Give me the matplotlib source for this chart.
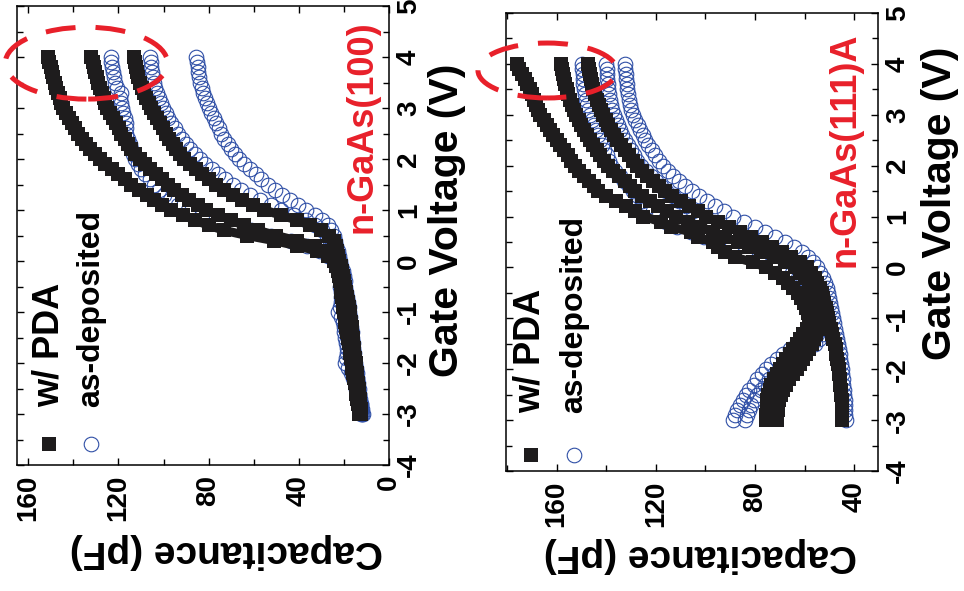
import numpy as np
import matplotlib
matplotlib.use("Agg")
import matplotlib.pyplot as plt
from matplotlib.patches import Ellipse
from matplotlib.ticker import MultipleLocator

plt.rcParams["font.family"] = ["Liberation Sans", "DejaVu Sans"]
plt.rcParams["font.weight"] = "bold"
plt.rcParams["axes.unicode_minus"] = False

# gate voltage sweep, -3 V to 4 V in 0.1 V steps
gate_v = np.linspace(-3.0, 4.0, 71)

# n-GaAs(100), capacitance in pF
pda_100 = [
    [13.2, 13.5, 13.9, 14.2, 14.5, 14.8, 15.2, 15.5, 15.8, 16.2, 16.5, 16.8, 17.2, 17.5, 17.9,
     18.3, 18.6, 19.0, 19.3, 19.7, 20.0, 20.3, 20.6, 20.9, 21.2, 21.5, 21.8, 22.2, 22.7, 23.5,
     24.5, 27.0, 32.0, 41.0, 51.0, 63.0, 73.0, 80.0, 86.0, 91.5, 96.5, 100.5, 104.0, 107.5, 111.0,
     114.2, 117.0, 120.0, 123.0, 125.8, 128.3, 130.5, 132.6, 134.5, 136.3, 137.9, 139.2, 140.5,
     141.8, 143.2, 144.5, 145.3, 146.0, 146.7, 147.5, 148.2, 148.8, 149.4, 150.0, 150.6, 151.2],
    [12.8, 13.1, 13.4, 13.7, 14.0, 14.3, 14.6, 14.9, 15.2, 15.5, 15.8, 16.1, 16.4, 16.7, 17.0,
     17.3, 17.6, 17.9, 18.2, 18.5, 18.8, 19.1, 19.4, 19.8, 20.1, 20.5, 20.9, 21.3, 21.8, 22.4,
     23.0, 24.5, 27.5, 33.0, 41.0, 50.0, 58.0, 64.5, 70.0, 75.8, 81.0, 84.8, 88.5, 92.0, 95.2,
     98.0, 100.6, 103.2, 105.8, 108.3, 110.6, 112.5, 114.2, 115.8, 117.3, 118.7, 119.9, 121.2,
     122.5, 123.7, 124.9, 125.8, 126.6, 127.4, 128.2, 129.0, 129.6, 130.2, 130.8, 131.4, 132.0],
    [12.3, 12.5, 12.8, 13.0, 13.3, 13.5, 13.7, 14.0, 14.2, 14.5, 14.8, 15.0, 15.3, 15.5, 15.8,
     16.0, 16.3, 16.6, 16.9, 17.2, 17.5, 17.9, 18.3, 18.7, 19.1, 19.5, 19.9, 20.3, 20.8, 21.4,
     22.0, 22.5, 23.0, 23.6, 24.5, 26.5, 30.0, 35.0, 40.6, 48.0, 55.3, 60.5, 65.0, 69.2, 73.0,
     76.6, 79.8, 82.8, 85.6, 88.2, 90.7, 92.6, 94.3, 95.9, 97.4, 98.8, 100.1, 101.4, 102.7,
     104.0, 105.4, 106.6, 107.7, 108.7, 109.7, 110.6, 111.2, 111.7, 112.2, 112.7, 113.2],
]
asdep_100 = [
    [11.5, 12.0, 12.6, 13.2, 13.8, 14.5, 15.2, 15.9, 16.7, 18.0, 19.5, 19.0, 18.5, 18.8, 19.2,
     19.5, 19.8, 20.1, 20.5, 21.5, 22.5, 21.8, 21.3, 21.4, 21.5, 21.6, 21.8, 22.1, 22.6, 23.4,
     24.5, 27.0, 30.5, 36.5, 43.4, 52.5, 61.0, 69.0, 76.0, 83.0, 89.0, 93.5, 97.0, 99.8, 102.2,
     104.0, 106.0, 108.0, 110.0, 111.5, 112.8, 113.5, 114.3, 115.0, 115.8, 116.5, 116.8, 116.7,
     117.2, 117.8, 118.4, 119.0, 119.3, 119.0, 120.5, 121.3, 121.8, 122.3, 122.7, 123.1, 123.5],
    [12.3, 12.6, 12.9, 13.2, 13.5, 13.8, 14.1, 14.4, 14.7, 15.0, 15.3, 15.6, 15.9, 16.2, 16.5,
     16.8, 17.1, 17.4, 17.7, 18.0, 18.3, 18.6, 18.9, 19.3, 19.6, 20.0, 20.4, 20.8, 21.3, 21.9,
     22.5, 23.2, 24.0, 25.0, 26.0, 27.5, 29.6, 32.8, 36.8, 42.0, 48.0, 52.5, 57.0, 61.5, 65.5,
     69.3, 72.6, 75.7, 78.6, 81.4, 84.0, 86.2, 88.2, 90.1, 91.9, 93.6, 95.1, 96.5, 97.8,
     99.1, 100.3, 101.3, 102.2, 103.0, 103.7, 104.4, 104.8, 105.1, 105.4, 105.7, 106.0],
    [12.0, 12.3, 12.6, 12.9, 13.2, 13.5, 13.8, 14.1, 14.4, 14.7, 15.0, 15.3, 15.5, 15.8, 16.1,
     16.4, 16.6, 16.8, 17.1, 17.3, 17.6, 17.9, 18.2, 18.5, 18.9, 19.3, 19.7, 20.1, 20.6, 21.2,
     21.8, 22.3, 22.8, 23.3, 23.8, 24.5, 25.5, 27.2, 29.6, 32.8, 36.8, 40.3, 43.8, 47.3, 50.6,
     53.8, 56.6, 59.2, 61.7, 64.1, 66.3, 68.2, 70.0, 71.6, 73.1, 74.4, 75.6, 76.7, 77.8,
     78.9, 80.0, 80.9, 81.7, 82.4, 83.1, 83.7, 84.1, 84.5, 84.8, 85.2, 85.5],
]

# n-GaAs(111)A, capacitance in pF
pda_111a = [
    [75.4, 75.4, 75.3, 75.2, 75.0, 74.6, 74.0, 73.4, 72.5, 71.3, 70.0, 68.7, 67.3, 66.0, 64.6,
     63.2, 62.0, 60.5, 59.0, 58.3, 58.0, 58.5, 59.3, 60.3, 61.3, 62.8, 64.6, 66.6, 68.7, 72.0,
     75.4, 80.8, 88.0, 92.0, 95.0, 97.0, 103.0, 106.0, 114.0, 118.0, 125.0, 128.5, 132.0, 136.0,
     140.0, 143.2, 145.0, 147.0, 149.0, 151.0, 152.6, 154.0, 155.5, 157.0, 158.5, 160.0, 161.3,
     162.6, 163.9, 165.2, 166.5, 167.3, 168.2, 169.0, 169.9, 170.8, 171.8, 172.9, 174.0, 175.0, 176.1],
    [71.0, 71.0, 70.9, 70.7, 70.2, 69.5, 68.6, 67.5, 66.2, 64.6, 63.0, 61.8, 60.5, 59.3, 58.2,
     57.0, 56.2, 55.4, 54.8, 54.3, 54.0, 54.1, 54.4, 54.8, 55.3, 56.0, 57.0, 58.2, 59.8, 61.8,
     64.0, 68.0, 72.5, 77.5, 82.5, 87.0, 92.0, 97.0, 102.0, 107.0, 112.0, 115.5, 119.0, 122.4,
     125.5, 128.5, 130.3, 132.6, 134.9, 137.1, 139.2, 140.8, 142.3, 143.8, 145.2, 146.6, 147.8,
     148.9, 150.0, 151.0, 152.0, 152.9, 153.7, 154.5, 155.3, 156.0, 156.5, 157.0, 157.5, 157.9, 158.4],
    [44.8, 44.9, 44.9, 45.0, 45.1, 45.2, 45.4, 45.6, 45.8, 46.0, 46.3, 46.6, 46.9, 47.2, 47.5,
     47.9, 48.4, 48.9, 49.5, 50.0, 50.6, 51.0, 51.5, 52.0, 52.5, 53.0, 53.8, 54.8, 56.0, 57.4,
     59.0, 62.0, 65.5, 69.2, 73.0, 77.0, 81.5, 86.0, 90.5, 95.0, 99.6, 103.0, 106.5, 110.0,
     113.3, 116.4, 118.8, 121.2, 123.4, 125.5, 127.5, 129.3, 131.0, 132.6, 134.1, 135.6, 136.9,
     138.0, 139.1, 140.2, 141.2, 142.1, 142.9, 143.7, 144.5, 145.3, 145.8, 146.2, 146.6, 147.0, 147.3],
]
asdep_111a = [
    [88.8, 88.0, 87.1, 86.1, 84.9, 83.8, 82.3, 80.6, 79.0, 77.3, 75.5, 73.5, 71.3, 68.8, 65.8,
     61.5, 58.0, 55.0, 54.0, 53.8, 54.0, 54.6, 55.4, 56.2, 57.0, 58.0, 59.2, 60.8, 62.8, 65.2,
     68.0, 73.0, 78.5, 84.0, 89.5, 95.0, 100.5, 106.0, 111.5, 116.0, 119.0, 121.2, 123.3, 125.4,
     127.3, 129.1, 130.9, 132.8, 134.6, 136.3, 137.9, 138.9, 139.8, 140.8, 141.7, 142.6, 143.4,
     144.2, 145.0, 145.8, 146.6, 147.2, 147.7, 148.2, 148.6, 149.0, 149.2, 149.3, 149.5, 149.6, 149.7],
    [84.0, 83.4, 82.6, 81.5, 80.3, 79.0, 77.6, 76.0, 74.2, 72.2, 70.0, 67.6, 65.0, 62.0, 58.8,
     56.0, 54.0, 52.5, 52.0, 51.8, 52.0, 52.4, 53.0, 53.6, 54.3, 55.0, 55.9, 56.9, 58.2, 59.9,
     62.0, 65.5, 69.2, 72.9, 76.5, 80.0, 84.5, 88.8, 93.2, 97.5, 101.6, 104.8, 107.8, 110.6,
     113.2, 115.7, 117.9, 120.1, 122.1, 124.0, 125.8, 127.4, 128.9, 130.2, 131.4, 132.5, 133.5,
     134.4, 135.3, 136.1, 136.9, 137.5, 138.0, 138.5, 138.9, 139.2, 139.4, 139.6, 139.7, 139.8, 139.9],
    [43.5, 43.6, 43.7, 43.8, 43.9, 44.0, 44.2, 44.4, 44.6, 44.8, 45.0, 45.3, 45.6, 45.9, 46.2,
     46.5, 46.9, 47.3, 47.7, 48.1, 48.5, 48.8, 49.2, 49.6, 50.0, 50.5, 51.1, 51.8, 52.7, 53.8,
     55.0, 56.8, 58.8, 61.0, 64.3, 68.0, 72.0, 76.0, 80.2, 84.6, 89.0, 92.6, 96.0, 99.3,
     102.5, 105.6, 108.2, 110.6, 112.9, 115.0, 117.0, 118.7, 120.3, 121.7, 123.0, 124.2, 125.3,
     126.3, 127.3, 128.2, 129.1, 129.8, 130.4, 130.9, 131.2, 131.5, 131.8, 132.0, 132.2, 132.4, 132.5],
]

BLACK = "#1e1c1d"
BLUE = "#2f4fa6"
RED = "#e8202a"

fig = plt.figure(figsize=(9.64, 5.91), dpi=100)
ax1 = fig.add_axes([0.0176, 0.2132, 0.3859, 0.7766])
ax2 = fig.add_axes([0.5249, 0.2030, 0.3859, 0.7750])


def draw_panel(ax, pda, asdep, xlim, name, ellipse, pos):
    # the figure is turned on its side: capacitance runs along x, gate voltage along y
    for c in asdep:
        ax.plot(c, gate_v, "o", ms=10.5, mfc="none", mec=BLUE, mew=0.8, zorder=2)
    for c in pda:
        ax.plot(c, gate_v, "-s", ms=10, lw=6.5, color=BLACK, mew=0,
                solid_joinstyle="round", zorder=3)

    ax.set_xlim(*xlim)
    ax.set_ylim(-4, 5)
    ax.xaxis.set_major_locator(MultipleLocator(40))
    ax.xaxis.set_minor_locator(MultipleLocator(20))
    ax.yaxis.set_major_locator(MultipleLocator(1))
    ax.yaxis.set_minor_locator(MultipleLocator(0.5))
    ax.tick_params(which="both", direction="in", top=True, bottom=True,
                   left=True, right=True, labelleft=False, labelright=True,
                   width=1.0, labelsize=20)
    ax.tick_params(which="major", length=5)
    ax.tick_params(which="minor", length=4)
    ax.tick_params(axis="x", pad=7)
    ax.tick_params(axis="y", pad=5)
    for lab in ax.get_xticklabels():
        lab.set_rotation(90)
        lab.set_ha("center")
        lab.set_va("top")
        lab.set_fontweight("bold")
    for lab in ax.get_yticklabels():
        lab.set_rotation(90)
        lab.set_ha("left")
        lab.set_va("center")
        lab.set_fontweight("bold")
    for sp in ax.spines.values():
        sp.set_linewidth(1.1)

    ax.text(pos["gate"][0], pos["gate"][1], "Gate Voltage (V)", transform=ax.transAxes,
            rotation=90, ha="center", va="center", fontsize=29.5, fontweight="bold")
    ax.text(pos["cap"][0], pos["cap"][1], "Capacitance (pF)", transform=ax.transAxes,
            rotation=180, ha="center", va="center", fontsize=28, fontweight="bold")
    ax.text(pos["name"][0], pos["name"][1], name, transform=ax.transAxes, color=RED,
            rotation=90, ha="center", va="bottom", fontsize=26, fontweight="bold")

    # legend
    lx1, lx2, ly, ty = pos["legend"]
    ax.plot([lx1], [ly], "s", ms=10, color=BLACK, mew=0, transform=ax.transAxes, clip_on=False)
    ax.plot([lx2], [ly], "o", ms=10.5, mfc="none", mec=BLUE, mew=0.8,
            transform=ax.transAxes, clip_on=False)
    ax.text(lx1, ty, "w/ PDA", transform=ax.transAxes, rotation=90,
            ha="center", va="bottom", fontsize=26, fontweight="bold")
    ax.text(lx2, ty, "as-deposited", transform=ax.transAxes, rotation=90,
            ha="center", va="bottom", fontsize=23, fontweight="bold")

    # red dashed ellipse around the accumulation capacitance
    (cx, cy), w, h = ellipse
    e = Ellipse((cx, cy), w, h, fill=False, edgecolor=RED, lw=3.6,
                linestyle=(0, (6, 4)), clip_on=False, zorder=5)
    ax.add_patch(e)


draw_panel(ax1, pda_100, asdep_100, (165, 0), "n-GaAs(100)",
           ((134.2, 3.88), 72, 1.41),
           {"gate": (1.156, 0.534), "cap": (0.562, -0.187), "name": (0.927, 0.505),
            "legend": (0.086, 0.199, 0.046, 0.126)})
draw_panel(ax2, pda_111a, asdep_111a, (180.4, 30.4), "n-GaAs(111)A",
           ((163.7, 3.87), 56, 1.08),
           {"gate": (1.167, 0.585), "cap": (0.522, -0.183), "name": (0.911, 0.445),
            "legend": (0.066, 0.182, 0.034, 0.127)})

plt.savefig("out.png", dpi=100)
